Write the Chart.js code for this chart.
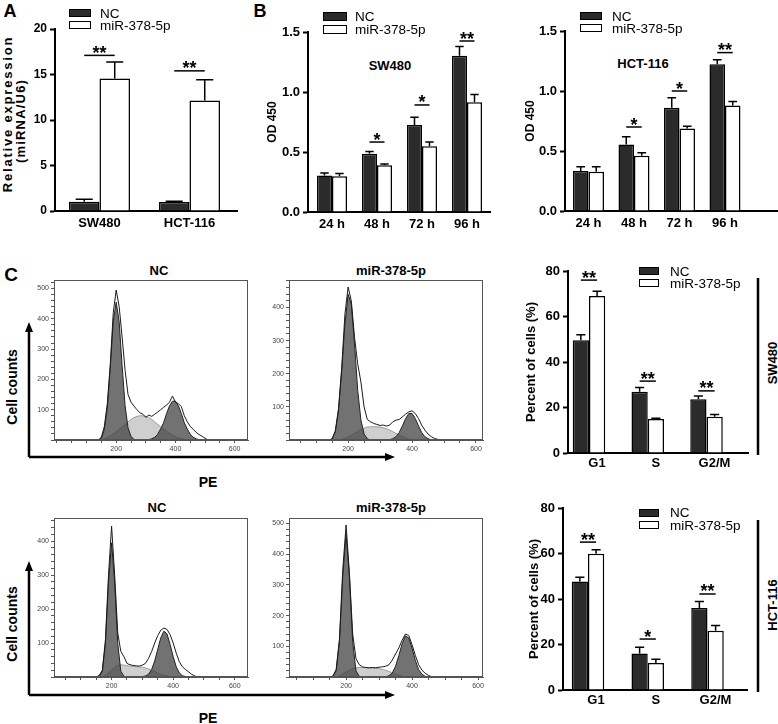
<!DOCTYPE html>
<html><head><meta charset="utf-8">
<script src="https://cdn.jsdelivr.net/npm/chart.js@4.4.1/dist/chart.umd.min.js"></script>
<style>
html,body{margin:0;padding:0;background:#fff;}
#page{position:relative;width:778px;height:724px;overflow:hidden;font-family:"Liberation Sans",Arial,sans-serif;color:#000;background:#fff;}
canvas{position:absolute;}
.t{position:absolute;line-height:1;white-space:nowrap;transform:translate(-50%,-50%);}
.b{font-weight:bold;}
.rot{transform:translate(-50%,-50%) rotate(-90deg);}
.lg{position:absolute;font-size:13.5px;white-space:nowrap;}
.lg .row{display:flex;align-items:center;}
.sw{display:inline-block;border:1.5px solid #000;box-sizing:border-box;}
svg{position:absolute;left:0;top:0;}
</style></head><body><div id="page">
<svg width="778" height="724">
 <g stroke="#000" stroke-width="2.5" fill="none">
  <path d="M29 457 V329 M29 457 H388"/>
  <path d="M29 695 V568 M29 695 H388"/>
  <path d="M758 278 V455 M758 520 V692"/>
 </g>
 <g fill="#000">
  <polygon points="29,322 25,332 33,332"/>
  <polygon points="395,457 385,453 385,461"/>
  <polygon points="29,561 25,571 33,571"/>
  <polygon points="395,695 385,691 385,699"/>
 </g>
</svg>
<div class="t b" style="left:10px;top:11px;font-size:18px">A</div>
<div class="t b" style="left:260px;top:11px;font-size:18px">B</div>
<div class="t b" style="left:11px;top:274px;font-size:19px">C</div>
<div class="t b rot" style="left:7px;top:114px;font-size:13px;letter-spacing:1.8px">Relative expression</div>
<div class="t b rot" style="left:19.5px;top:121px;font-size:13px;letter-spacing:1.2px">(miRNA/U6)</div>
<div class="t b" style="left:390px;top:65px;font-size:13px">SW480</div>
<div class="t b" style="left:643px;top:63px;font-size:13px">HCT-116</div>
<div class="t b" style="left:159px;top:270px;font-size:13px">NC</div>
<div class="t b" style="left:391px;top:270px;font-size:13px">miR-378-5p</div>
<div class="t b" style="left:157px;top:507px;font-size:13px">NC</div>
<div class="t b" style="left:391px;top:507px;font-size:13px">miR-378-5p</div>
<div class="t b rot" style="left:12px;top:387px;font-size:14px">Cell counts</div>
<div class="t b rot" style="left:12px;top:624px;font-size:14px">Cell counts</div>
<div class="t b" style="left:208px;top:482px;font-size:14px">PE</div>
<div class="t b" style="left:208px;top:718px;font-size:14px">PE</div>
<div class="t b rot" style="left:772px;top:363px;font-size:13px">SW480</div>
<div class="t b rot" style="left:772px;top:605px;font-size:13px">HCT-116</div>
</div>
<script>
// ---------------- data ----------------
const SERIES = ['NC', 'miR-378-5p'];

// Panel A
const A_CATS = ['SW480', 'HCT-116'];
const A_NC = [1.03, 0.99];
const A_MIR = [14.57, 12.15];
const A_NC_ERR = [0.25, 0.07];
const A_MIR_ERR = [1.8, 2.27];
const A_SIG_Y = [17.1, 15.4];
const A_SIG = ['**', '**'];

// Panel B
const B_CATS = ['24 h', '48 h', '72 h', '96 h'];
const B1_NC = [0.305, 0.486, 0.725, 1.303];
const B1_MIR = [0.297, 0.389, 0.547, 0.914];
const B1_NC_ERR = [0.02, 0.019, 0.065, 0.077];
const B1_MIR_ERR = [0.023, 0.011, 0.036, 0.066];
const B1_SIG_Y = [null, 0.583, 0.892, 1.425];
const B1_SIG = ['', '*', '*', '**'];
const B2_NC = [0.333, 0.554, 0.86, 1.223];
const B2_MIR = [0.327, 0.46, 0.688, 0.879];
const B2_NC_ERR = [0.036, 0.064, 0.083, 0.038];
const B2_MIR_ERR = [0.042, 0.025, 0.019, 0.033];
const B2_SIG_Y = [null, 0.70, 1.0, 1.32];
const B2_SIG = ['', '*', '*', '**'];

// Panel C bars
const C_CATS = ['G1', 'S', 'G2/M'];
const C1_NC = [49.6, 26.9, 23.6];
const C1_MIR = [69.0, 14.9, 15.9];
const C1_NC_ERR = [2.4, 1.9, 1.5];
const C1_MIR_ERR = [2.1, 0.4, 1.0];
const C1_SIG_Y = [76, 31.6, 27.3];
const C1_SIG = ['**', '**', '**'];
const C2_NC = [47.7, 16.0, 36.0];
const C2_MIR = [59.9, 11.9, 26.0];
const C2_NC_ERR = [1.9, 2.8, 2.9];
const C2_MIR_ERR = [1.8, 1.6, 2.3];
const C2_SIG_Y = [65, 22.4, 42.2];
const C2_SIG = ['**', '*', '**'];

// Panel C flow histograms (PE channel values)
const HX = [140,150,160,170,180,190,200,210,220,230,240,250,260,270,280,290,300,310,320,330,340,350,360,370,380,390,400,410,420,430,440,450,460,470,480,490,500,510,520];
// SW480 NC
const H1_RAW = [0,10,45,120,250,420,495,440,340,230,150,125,112,100,90,85,75,82,78,85,92,100,108,115,125,145,125,120,110,80,60,45,35,25,18,12,6,0,0];
const H1_G1  = [0,6,35,105,240,390,455,390,245,113,40,12,2,0,0,0,0,0,0,0,0,0,0,0,0,0,0,0,0,0,0,0,0,0,0,0,0,0,0];
const H1_S   = [0,0,3,8,14,20,27,34,42,52,60,68,74,78,80,80,78,74,68,60,52,44,36,29,22,16,11,7,4,2,1,0,0,0,0,0,0,0,0];
const H1_G2  = [0,0,0,0,0,0,0,0,0,0,0,0,0,0,0,0,0,1,4,9,19,36,57,87,113,128,128,113,87,57,36,19,9,4,1,0,0,0,0];
// SW480 miR-378-5p
const H2_RAW = [0,4,28,95,220,380,462,420,310,230,175,100,62,55,50,47,44,45,42,45,55,60,62,70,78,85,88,80,65,45,30,18,10,5,2,0,0,0,0];
const H2_G1  = [0,3,25,90,210,350,440,410,290,150,60,18,4,0,0,0,0,0,0,0,0,0,0,0,0,0,0,0,0,0,0,0,0,0,0,0,0,0,0];
const H2_S   = [0,0,0,0,2,5,9,14,20,26,32,36,39,40,40,40,39,37,34,30,25,20,15,10,6,3,1,0,0,0,0,0,0,0,0,0,0,0,0];
const H2_G2  = [0,0,0,0,0,0,0,0,0,0,0,0,0,0,0,0,0,0,0,1,4,10,23,43,65,80,80,65,43,23,10,4,1,0,0,0,0,0,0];
// HCT-116 NC
const H3_RAW = [0,0,5,20,110,300,444,300,130,75,60,40,36,34,33,32,35,40,55,75,100,122,138,144,140,125,100,70,45,30,22,15,8,3,0,0,0,0,0];
const H3_G1  = [0,0,2,17,99,279,395,279,99,17,2,0,0,0,0,0,0,0,0,0,0,0,0,0,0,0,0,0,0,0,0,0,0,0,0,0,0,0,0];
const H3_S   = [0,0,0,0,5,12,20,28,34,36,35,33,32,31,30,30,29,27,24,20,16,12,8,5,3,1,0,0,0,0,0,0,0,0,0,0,0,0,0];
const H3_G2  = [0,0,0,0,0,0,0,0,0,0,0,0,0,0,0,0,1,3,8,22,47,82,116,135,127,96,60,30,12,4,1,0,0,0,0,0,0,0,0];
// HCT-116 miR-378-5p
const H4_RAW = [0,0,3,25,125,350,495,340,140,60,40,33,31,30,31,30,32,33,35,40,55,75,95,120,140,135,105,70,40,22,12,5,1,0,0,0,0,0,0];
const H4_G1  = [0,0,2,20,116,329,465,329,116,20,2,0,0,0,0,0,0,0,0,0,0,0,0,0,0,0,0,0,0,0,0,0,0,0,0,0,0,0,0];
const H4_S   = [0,0,0,0,4,10,16,22,27,30,31,31,30,29,29,28,27,25,22,18,14,10,6,3,1,0,0,0,0,0,0,0,0,0,0,0,0,0,0];
const H4_G2  = [0,0,0,0,0,0,0,0,0,0,0,0,0,0,0,0,0,0,1,4,13,35,70,109,134,127,94,54,24,9,2,0,0,0,0,0,0,0,0];

// ---------------- rendering ----------------
Chart.defaults.font.family = '"Liberation Sans", Arial, Helvetica, sans-serif';
Chart.defaults.color = '#000';
const page = document.getElementById('page');

function mk(b) {
  const c = document.createElement('canvas');
  c.width = b.w; c.height = b.h;
  c.style.left = b.x + 'px'; c.style.top = b.y + 'px';
  c.style.width = b.w + 'px'; c.style.height = b.h + 'px';
  page.appendChild(c);
  return c;
}

const annot = {
  id: 'annot',
  afterDatasetsDraw(chart, args, o) {
    const ctx = chart.ctx, ys = chart.scales.y;
    ctx.save();
    ctx.strokeStyle = '#000'; ctx.lineWidth = 1.5; ctx.fillStyle = '#000';
    (o.errors || []).forEach((errs, di) => {
      const meta = chart.getDatasetMeta(di);
      meta.data.forEach((bar, i) => {
        const e = errs[i]; if (!e) return;
        const v = chart.data.datasets[di].data[i].y;
        const yTop = ys.getPixelForValue(v + e);
        const cap = bar.width * 0.28;
        ctx.beginPath();
        ctx.moveTo(bar.x, bar.y); ctx.lineTo(bar.x, yTop);
        ctx.moveTo(bar.x - cap, yTop); ctx.lineTo(bar.x + cap, yTop);
        ctx.stroke();
      });
    });
    const m0 = chart.getDatasetMeta(0), m1 = chart.getDatasetMeta(1);
    ctx.font = 'bold 18px "Liberation Sans", Arial, sans-serif';
    ctx.textAlign = 'center'; ctx.textBaseline = 'alphabetic';
    (o.sigY || []).forEach((sv, i) => {
      if (sv == null) return;
      const yp = ys.getPixelForValue(sv);
      const x1 = m0.data[i].x, x2 = m1.data[i].x;
      ctx.beginPath(); ctx.moveTo(x1, yp); ctx.lineTo(x2, yp); ctx.stroke();
      ctx.fillText(o.sigT[i], (x1 + x2) / 2, yp + 3.5);
    });
    ctx.restore();
  }
};

const boxPlugin = {
  id: 'box',
  afterDraw(chart) {
    const ctx = chart.ctx, c = chart.chartArea;
    ctx.save(); ctx.strokeStyle = '#555'; ctx.lineWidth = 1;
    ctx.strokeRect(c.left + 0.5, c.top + 0.5, c.width - 1, c.height - 1);
    ctx.restore();
  }
};

function barChart(o) {
  const cv = mk(o.box);
  return new Chart(cv, {
    type: 'bar',
    data: { datasets: [
      { label: SERIES[0], data: o.nc.map((v, i) => ({x: i, y: v})), backgroundColor: '#2b2b2b', borderColor: '#000', borderWidth: 1.5 },
      { label: SERIES[1], data: o.mir.map((v, i) => ({x: i, y: v})), backgroundColor: '#fff', borderColor: '#000', borderWidth: 1.5 }
    ]},
    options: {
      responsive: false, animation: false, events: [],
      layout: { padding: { top: o.padTop, right: o.padR, left: 0, bottom: 0 } },
      datasets: { bar: { categoryPercentage: o.cat, barPercentage: 1 } },
      plugins: { legend: { display: false }, tooltip: { enabled: false },
        annot: { errors: [o.ncErr, o.mirErr], sigY: o.sigY, sigT: o.sig } },
      scales: {
        x: { type: 'linear', offset: false, min: o.xmin, max: o.xmax,
          afterBuildTicks: s => { s.ticks = o.cats.map((c, i) => ({ value: i })); },
          afterFit: s => { s.height = o.xH; },
          grid: { display: false, drawTicks: false },
          border: { display: true, color: '#000', width: 2 },
          ticks: { autoSkip: false, maxRotation: 0, padding: o.xPad, labelOffset: o.lo || 0,
            font: { weight: 'bold', size: 13 }, color: '#000',
            callback: v => o.cats[Math.round(v)] ?? '' } },
        y: { min: 0, max: o.ymax,
          afterFit: s => { s.width = o.yW; },
          grid: { drawOnChartArea: false, drawTicks: true, tickLength: 5, tickWidth: 2, tickColor: '#000' },
          border: { display: true, color: '#000', width: 2 },
          ticks: { stepSize: o.step, autoSkip: false, padding: 3, font: { weight: 'bold', size: o.ytf || 13 }, color: '#000',
            callback: o.yfmt || (v => v) },
          title: { display: !!o.ytitle, text: o.ytitle || '', color: '#000', font: o.tfont, padding: { top: o.tp || 0, bottom: 0 } } }
      }
    },
    plugins: [annot]
  });
}

// Panel A (y-axis title drawn as spaced HTML text above)
barChart({ box: {x: 0, y: 0, w: 250, h: 240}, yW: 55, xH: 29, padTop: 29, padR: 13,
  xmin: -0.494, xmax: 1.528, cat: 0.678, ymax: 20, step: 5, xPad: 5, ytf: 12,
  cats: A_CATS, nc: A_NC, mir: A_MIR, ncErr: A_NC_ERR, mirErr: A_MIR_ERR, sigY: A_SIG_Y, sig: A_SIG,
  ytitle: null });

barChart({ box: {x: 250, y: 0, w: 265, h: 240}, yW: 58, xH: 28, padTop: 32, padR: 25,
  xmin: -0.533, xmax: 3.511, cat: 0.667, ymax: 1.5, step: 0.5, xPad: 5, yfmt: v => v.toFixed(1),
  cats: B_CATS, nc: B1_NC, mir: B1_MIR, ncErr: B1_NC_ERR, mirErr: B1_MIR_ERR, sigY: B1_SIG_Y, sig: B1_SIG,
  ytitle: 'OD 450', tfont: { size: 12, weight: 'bold' }, tp: 15 });

barChart({ box: {x: 515, y: 0, w: 263, h: 240}, yW: 50, xH: 29, padTop: 31, padR: 1,
  xmin: -0.516, xmax: 4.143, cat: 0.681, ymax: 1.5, step: 0.5, xPad: 5, yfmt: v => v.toFixed(1),
  cats: B_CATS, nc: B2_NC, mir: B2_MIR, ncErr: B2_NC_ERR, mirErr: B2_MIR_ERR, sigY: B2_SIG_Y, sig: B2_SIG,
  ytitle: 'OD 450', tfont: { size: 12, weight: 'bold' }, tp: 8 });

barChart({ box: {x: 515, y: 255, w: 240, h: 215}, yW: 53, xH: 17, padTop: 16, padR: 7,
  xmin: -0.357, xmax: 2.706, cat: 0.553, lo: 8, ymax: 80, step: 20, xPad: 3,
  cats: C_CATS, nc: C1_NC, mir: C1_MIR, ncErr: C1_NC_ERR, mirErr: C1_MIR_ERR, sigY: C1_SIG_Y, sig: C1_SIG,
  ytitle: 'Percent of cells (%)', tfont: { size: 13, weight: 'bold' }, tp: 9 });

barChart({ box: {x: 515, y: 495, w: 240, h: 215}, yW: 48, xH: 20, padTop: 13, padR: 8,
  xmin: -0.418, xmax: 2.661, cat: 0.544, lo: 8, ymax: 80, step: 20, xPad: 3,
  cats: C_CATS, nc: C2_NC, mir: C2_MIR, ncErr: C2_NC_ERR, mirErr: C2_MIR_ERR, sigY: C2_SIG_Y, sig: C2_SIG,
  ytitle: 'Percent of cells (%)', tfont: { size: 13, weight: 'bold' }, tp: 12 });

function pts(xs, ys) { return xs.map((x, i) => ({ x: x, y: ys[i] })); }

function histChart(o) {
  const cv = mk(o.box);
  return new Chart(cv, {
    type: 'line',
    data: { datasets: [
      { data: pts(HX, o.raw), borderColor: '#1a1a1a', borderWidth: 1, fill: false },
      { data: pts(HX, o.g1), borderColor: '#222', borderWidth: 1, backgroundColor: 'rgba(60,60,60,0.72)', fill: 'origin' },
      { data: pts(HX, o.g2), borderColor: '#222', borderWidth: 1, backgroundColor: 'rgba(60,60,60,0.72)', fill: 'origin' },
      { data: pts(HX, o.s), borderColor: '#8a8a8a', borderWidth: 0.8, backgroundColor: 'rgba(175,175,175,0.6)', fill: 'origin' }
    ]},
    options: {
      responsive: false, animation: false, events: [],
      elements: { point: { radius: 0 }, line: { tension: 0 } },
      layout: { padding: { top: 22, right: 6, left: 0, bottom: 0 } },
      plugins: { legend: { display: false }, tooltip: { enabled: false } },
      scales: {
        x: { type: 'linear', min: o.xmin, max: o.xmax, afterFit: s => { s.height = 18; },
          grid: { drawOnChartArea: false, tickLength: 3, tickColor: '#555' },
          border: { color: '#555', width: 1 },
          ticks: { stepSize: 50, includeBounds: false, autoSkip: false, maxRotation: 0, padding: 2,
            font: { size: 7 }, color: '#444', callback: v => (v > 0 && v % 200 === 0) ? String(v) : '' } },
        y: { min: 0, max: o.ymax, afterFit: s => { s.width = 20; },
          grid: { drawOnChartArea: false, tickLength: 3, tickColor: '#555' },
          border: { color: '#555', width: 1 },
          ticks: { stepSize: 20, includeBounds: false, autoSkip: false, padding: 2,
            font: { size: 7 }, color: '#444', callback: v => (v > 0 && v % 100 === 0) ? String(v) : '' } }
      }
    },
    plugins: [boxPlugin]
  });
}

histChart({ box: {x: 34, y: 258, w: 220, h: 200}, xmin: -10, xmax: 645, ymax: 528, raw: H1_RAW, g1: H1_G1, g2: H1_G2, s: H1_S });
histChart({ box: {x: 269, y: 258, w: 220, h: 200}, xmin: 15, xmax: 622, ymax: 483, raw: H2_RAW, g1: H2_G1, g2: H2_G2, s: H2_S });
histChart({ box: {x: 34, y: 496, w: 220, h: 199}, xmin: 13, xmax: 643, ymax: 468, raw: H3_RAW, g1: H3_G1, g2: H3_G2, s: H3_S });
histChart({ box: {x: 269, y: 496, w: 220, h: 199}, xmin: 27, xmax: 615, ymax: 518, raw: H4_RAW, g1: H4_G1, g2: H4_G2, s: H4_S });

// legends (HTML)
const LEGENDS = [
  { x: 69, y: 7, row: 12, bw: 22, bh: 8, gap: 9 },
  { x: 323, y: 9.5, row: 13, bw: 24, bh: 9, gap: 8 },
  { x: 580, y: 10, row: 12, bw: 22, bh: 8, gap: 10 },
  { x: 639, y: 265, row: 12, bw: 20, bh: 8, gap: 11 },
  { x: 639, y: 506.5, row: 12.5, bw: 20, bh: 8, gap: 11 }
];
const SWATCH = ['#2b2b2b', '#fff'];
LEGENDS.forEach(L => {
  const d = document.createElement('div');
  d.className = 'lg';
  d.style.left = L.x + 'px'; d.style.top = L.y + 'px';
  SERIES.forEach((name, i) => {
    const r = document.createElement('div');
    r.className = 'row'; r.style.height = L.row + 'px';
    const s = document.createElement('span');
    s.className = 'sw';
    s.style.width = L.bw + 'px'; s.style.height = L.bh + 'px';
    s.style.marginRight = L.gap + 'px'; s.style.background = SWATCH[i];
    r.appendChild(s);
    r.appendChild(document.createTextNode(name));
    d.appendChild(r);
  });
  page.appendChild(d);
});
</script>
</body></html>
